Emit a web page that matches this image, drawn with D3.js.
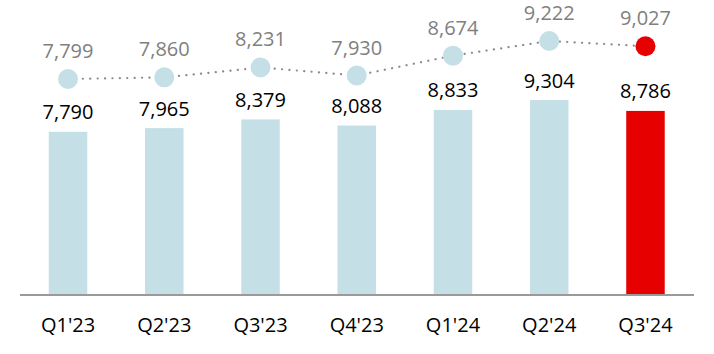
<!DOCTYPE html>
<html>
<head>
<meta charset="utf-8">
<script src="https://cdn.jsdelivr.net/npm/d3@7"></script>
<style>
  body { margin: 0; background: #fff; }
  text { font-family: "Open Sans", "Noto Sans", sans-serif; }
</style>
</head>
<body>
<div id="chart"></div>
<script>
const quarters = ["Q1'23", "Q2'23", "Q3'23", "Q4'23", "Q1'24", "Q2'24", "Q3'24"];
const barValues = [7790, 7965, 8379, 8088, 8833, 9304, 8786];
const lineValues = [7799, 7860, 8231, 7930, 8674, 9222, 9027];

const width = 714, height = 354;
const baseY = 295;

const lightBlue = "#c5dfe6",
      red = "#e60000";

let svg = d3.select("#chart").append("svg")
  .attr("width", width)
  .attr("height", height);

let xScale = d3.scaleBand()
  .domain(quarters)
  .range([19.9, 693.6])
  .paddingInner(0.6)
  .paddingOuter(0.3);

let yScale = d3.scaleLinear()
  .domain([0, 14080])
  .range([baseY, 0]);

// line series sits on its own scale above the bars
let yLine = d3.scaleLinear()
  .domain([7799, 9222])
  .range([79, 41]);

const cx = d => xScale(d) + xScale.bandwidth() / 2;

svg.selectAll(".bar")
  .data(quarters)
  .join("rect")
    .attr("class", "bar")
    .attr("x", d => xScale(d))
    .attr("width", xScale.bandwidth())
    .attr("y", (d, i) => yScale(barValues[i]))
    .attr("height", (d, i) => baseY - yScale(barValues[i]))
    .attr("fill", (d, i) => i === quarters.length - 1 ? red : lightBlue);

svg.append("line")
  .attr("x1", 20).attr("x2", 694)
  .attr("y1", baseY).attr("y2", baseY)
  .attr("stroke", "#9a9a9a")
  .attr("stroke-width", 2);

svg.selectAll(".bar-label")
  .data(quarters)
  .join("text")
    .attr("class", "bar-label")
    .attr("x", cx)
    .attr("y", (d, i) => yScale(barValues[i]) - 12.5)
    .attr("text-anchor", "middle")
    .attr("font-size", 20)
    .attr("fill", "#000")
    .text((d, i) => d3.format(",")(barValues[i]));

let line = d3.line()
  .x(d => cx(d))
  .y((d, i) => yLine(lineValues[i]));

svg.append("path")
  .datum(quarters)
  .attr("d", line)
  .attr("fill", "none")
  .attr("stroke", "#8a8a8a")
  .attr("stroke-width", 2.2)
  .attr("stroke-linecap", "round")
  .attr("stroke-dasharray", "0.1,7.3");

svg.selectAll(".dot")
  .data(quarters)
  .join("circle")
    .attr("class", "dot")
    .attr("cx", cx)
    .attr("cy", (d, i) => yLine(lineValues[i]))
    .attr("r", 10)
    .attr("fill", (d, i) => i === quarters.length - 1 ? red : lightBlue);

svg.selectAll(".line-label")
  .data(quarters)
  .join("text")
    .attr("class", "line-label")
    .attr("x", cx)
    .attr("y", (d, i) => yLine(lineValues[i]) - 21)
    .attr("text-anchor", "middle")
    .attr("font-size", 20)
    .attr("fill", "#808080")
    .text((d, i) => d3.format(",")(lineValues[i]));

svg.selectAll(".x-label")
  .data(quarters)
  .join("text")
    .attr("class", "x-label")
    .attr("x", cx)
    .attr("y", 332)
    .attr("text-anchor", "middle")
    .attr("font-size", 20)
    .attr("fill", "#000")
    .text(d => d);
</script>
</body>
</html>
